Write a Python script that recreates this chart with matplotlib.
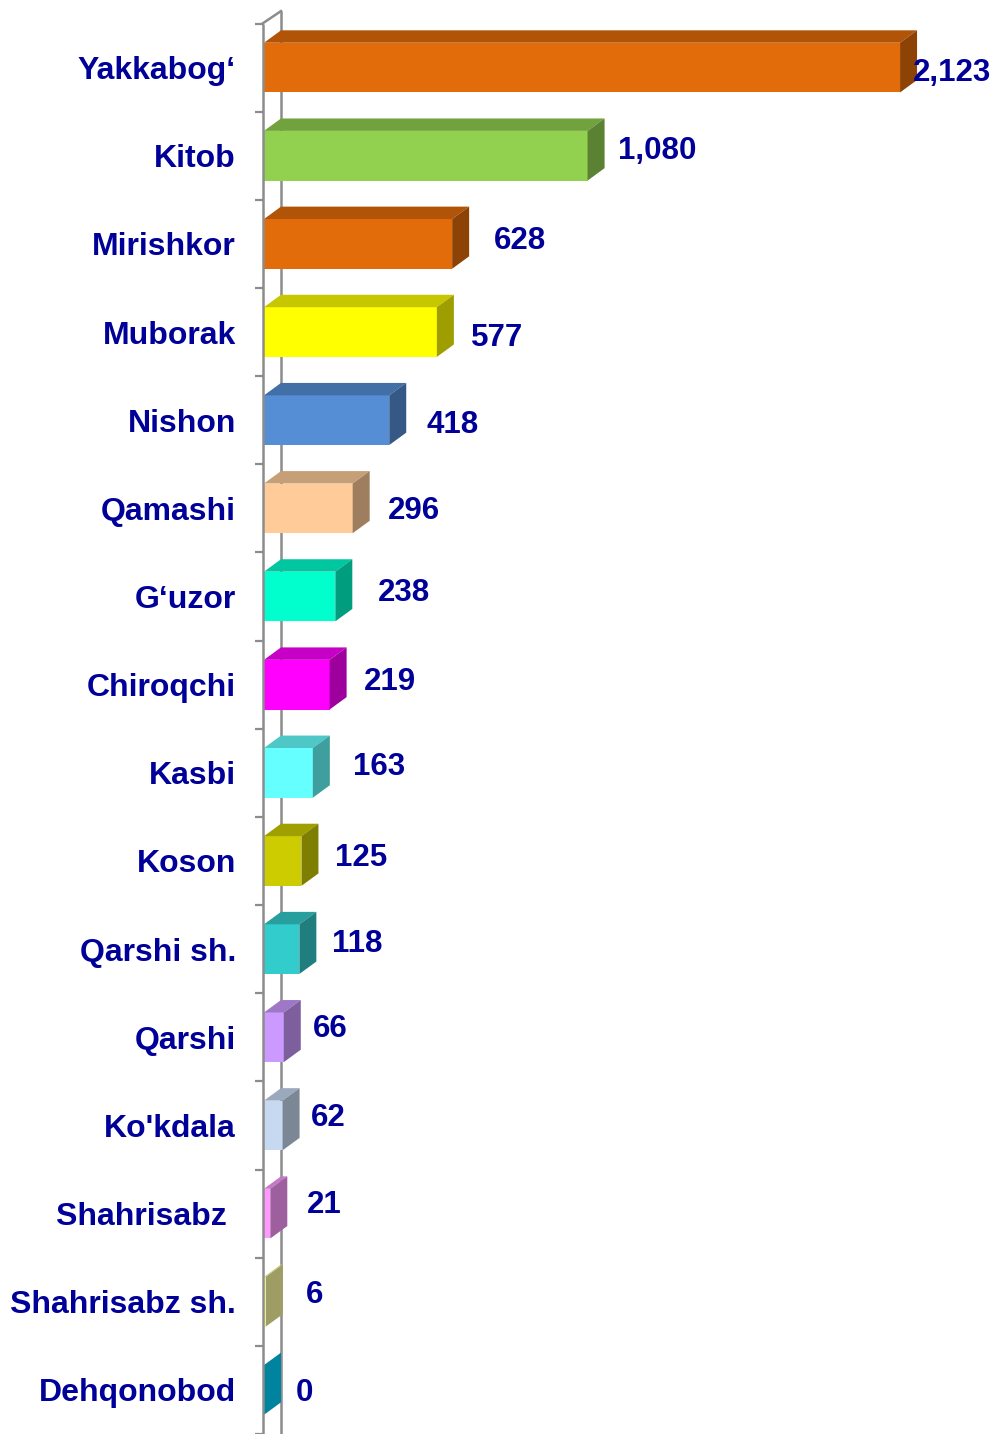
import matplotlib.pyplot as plt
from matplotlib.patches import Polygon
import matplotlib.colors as mcolors

W, H, DPI = 997, 1434, 100

categories = ["Yakkabog\u2018", "Kitob", "Mirishkor", "Muborak", "Nishon", "Qamashi",
              "G\u2018uzor", "Chiroqchi", "Kasbi", "Koson", "Qarshi sh.", "Qarshi",
              "Ko'kdala", "Shahrisabz ", "Shahrisabz sh.", "Dehqonobod"]
values = [2123, 1080, 628, 577, 418, 296, 238, 219, 163, 125, 118, 66, 62, 21, 6, 0]
colors = ["#E36C0A", "#92D050", "#E36C0A", "#FFFF00", "#558ED5", "#FFCC99",
          "#00FFCC", "#FF00FF", "#66FFFF", "#CCCC00", "#33CCCC", "#CC99FF",
          "#C6D9F1", "#FF99FF", "#FFFFA2", "#00D4FF"]
value_labels = ["2,123", "1,080", "628", "577", "418", "296", "238", "219",
                "163", "125", "118", "66", "62", "21", "6", "0"]

# hand placed label nudges (pixels right of bar end / pixels down)
label_dx = [13, 30, 42, 34, 37, 35, 43, 34, 40, 34, 33, 29, 28, 37, 40, 32]
label_dy = [2, -8, -6, 2, 1, -1, -7, -6, -9, -6, -9, -12, -11, -12, -10, 0]

TEXT = "#000099"
GREY = "#8C8C8C"
FONT = "Liberation Sans"

fig = plt.figure(figsize=(W / DPI, H / DPI), dpi=DPI)
left_px = 264
ax = fig.add_axes([left_px / W, 0, 1 - left_px / W, 1])
xmax = 2446.6
row_px = 88.7
ymin = -68 / row_px
ymax = ymin + H / row_px
ax.set_xlim(0, xmax)
ax.set_ylim(ymax, ymin)

px_x = (W - left_px) / xmax
px_y = H / (ymax - ymin)
dx = 17 / px_x          # depth, data units
dy = 12.5 / px_y
h = 50 / px_y

n = len(values)
ypos = list(range(n))

ax.barh(ypos, values, height=h, color=colors, linewidth=0, zorder=3)

def shade(c, f):
    r, g, b = mcolors.to_rgb(c)
    return (r * f, g * f, b * f)

for i, (v, c) in enumerate(zip(values, colors)):
    top = i - h / 2
    bot = i + h / 2
    ax.add_patch(Polygon([(0, top), (dx, top - dy), (v + dx, top - dy), (v, top)],
                         closed=True, facecolor=shade(c, 0.78), linewidth=0, zorder=3))
    ax.add_patch(Polygon([(v, top), (v + dx, top - dy), (v + dx, bot - dy), (v, bot)],
                         closed=True, facecolor=shade(c, 0.62), linewidth=0, zorder=3))
    ax.annotate(value_labels[i], xy=(v, i), xytext=(label_dx[i], -label_dy[i]),
                textcoords="offset pixels", ha="left", va="center_baseline",
                fontsize=22.5, fontweight="bold", color=TEXT, family=FONT,
                annotation_clip=False, zorder=5)

# side wall
fx = -1.5 / px_x
bx = 17 / px_x
ax.plot([fx, fx], [-0.5, ymax + 1], color=GREY, lw=1.8, clip_on=False, zorder=4,
        solid_capstyle="butt")
ax.plot([bx, bx], [-0.5 - dy, ymax + 1], color=GREY, lw=1.8, clip_on=False, zorder=1,
        solid_capstyle="butt")
ax.plot([fx, bx], [-0.5, -0.5 - dy], color=GREY, lw=1.8, clip_on=False, zorder=4)

for s in ax.spines.values():
    s.set_visible(False)

ax.set_xticks([])
ax.set_yticks(ypos)
ax.set_yticklabels(categories, fontsize=23, fontweight="bold", color=TEXT, family=FONT)
ax.set_yticks([k - 0.5 for k in range(n + 1)], minor=True)
ax.tick_params(axis="y", which="major", length=0, pad=20.2)
ax.tick_params(axis="y", which="minor", length=6.5, width=1.6, color=GREY, direction="out")

fig.savefig("out.png", dpi=DPI)
